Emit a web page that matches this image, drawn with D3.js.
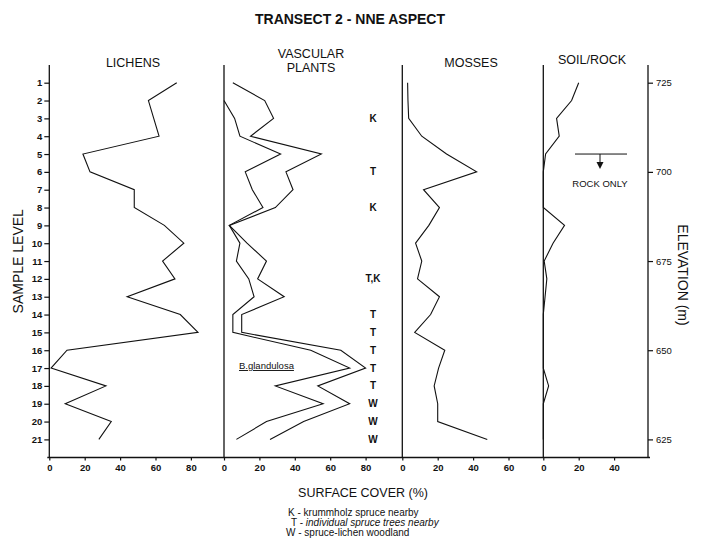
<!DOCTYPE html>
<html><head><meta charset="utf-8">
<script src="https://cdn.jsdelivr.net/npm/d3@7"></script>
<style>
body{margin:0;background:#fff;}
svg text{font-family:"Liberation Sans",Arial,Helvetica,sans-serif;fill:#111;}
</style></head><body>
<svg id="c" width="701" height="541"></svg>
<script>
const levels = [1,2,3,4,5,6,7,8,9,10,11,12,13,14,15,16,17,18,19,20,21];
const lichens = [72,56,59,62,19,23,48,48,65,76,64,71,44,74,84,10,1,32,9,35,28];
const vascularA = [5,23,28,15,55,35,39,29,3,13,24,19,34,10,10,66,80,53,71,45,26];
const vascularB = [null,0,6,9,32,12,16,22,3,9,7,14,17,5,5,49,71,29,56,24,7];
const mosses = [3,3.2,3.6,11,25,42,12,21,15,7.5,11,8.6,21,16,7,24,20.5,18,20,20,48];
const soilRock = [20,16,7.5,9,1.3,0,0,0,12,5.5,0.5,2,1,0,0,0,0,3,0,0,0];
const elevationTicks = [725,700,675,650,625];
const lichenTicks = [0,20,40,60,80];
const vascularTicks = [0,20,40,60,80];
const mossTicks = [0,20,40,60];
const soilTicks = [0,20,40];
const siteLevels = [3,6,8,12,14,15,16,17,18,19,20,21];
const siteCodes = ["K","T","K","T,K","T","T","T","T","T","W","W","W"];
const rockOnlyLevel = 5;
const bGlandulosaLevel = 17;

const svg = d3.select("#c");
const yTop = 65, yBottom = 457.5;
const y = d3.scaleLinear().domain([1,21]).range([82.7,439.4]);
const yElev = d3.scaleLinear().domain([725,625]).range([82.7,439.4]);
const ppu = 1.77;
const xL = d3.scaleLinear().domain([0,80]).range([49.3,49.3+80*ppu]);
const xV = d3.scaleLinear().domain([0,80]).range([224,224+80*ppu]);
const xM = d3.scaleLinear().domain([0,60]).range([402.3,402.3+60*ppu]);
const xS = d3.scaleLinear().domain([0,40]).range([543.3,543.3+40*ppu]);

// title
svg.append("text").attr("x",350).attr("y",24).attr("text-anchor","middle")
  .attr("font-size",14).attr("font-weight","bold").text("TRANSECT 2 - NNE ASPECT");
// headers
const hdr = (x,yy,t)=>svg.append("text").attr("x",x).attr("y",yy).attr("text-anchor","middle").attr("font-size",12.5).text(t);
hdr(133,67,"LICHENS");
hdr(311,58,"VASCULAR");
hdr(311,72,"PLANTS");
hdr(471,67,"MOSSES");
hdr(592,64,"SOIL/ROCK");

// vertical panel lines
[xL(0),xV(0),xM(0),xS(0),648].forEach(x=>{
  svg.append("line").attr("x1",x).attr("x2",x).attr("y1",yTop).attr("y2",yBottom)
    .attr("stroke","#111").attr("stroke-width",1.3);
});
// bottom axis line
svg.append("line").attr("x1",xL(0)-2).attr("x2",650).attr("y1",yBottom).attr("y2",yBottom)
  .attr("stroke","#111").attr("stroke-width",1.3);

function styleAxis(g){
  g.select(".domain").remove();
  g.selectAll(".tick line").attr("stroke","#111").attr("stroke-width",1.2);
  g.selectAll(".tick text").attr("font-family","Liberation Sans, Arial, sans-serif").attr("fill","#111");
}
// bottom axes
[[xL,lichenTicks],[xV,vascularTicks],[xM,mossTicks],[xS,soilTicks]].forEach(([sc,t])=>{
  svg.append("g").attr("transform",`translate(0,${yBottom})`)
    .call(d3.axisBottom(sc).tickValues(t).tickSize(3).tickPadding(4).tickFormat(d3.format("d")))
    .call(styleAxis).attr("font-size",9.5).attr("font-weight","bold");
});
// left sample level axis
svg.append("g").attr("transform",`translate(${xL(0)},0)`)
  .call(d3.axisLeft(y).tickValues(levels).tickSize(5).tickPadding(2).tickFormat(d3.format("d")))
  .call(styleAxis).attr("font-size",9.5).attr("font-weight","bold");
// right elevation axis
svg.append("g").attr("transform",`translate(648,0)`)
  .call(d3.axisRight(yElev).tickValues(elevationTicks).tickSize(5).tickPadding(3).tickFormat(d3.format("d")))
  .call(styleAxis).attr("font-size",9.5);

// axis titles
svg.append("text").attr("transform",`translate(23,${(yTop+yBottom)/2}) rotate(-90)`)
  .attr("text-anchor","middle").attr("font-size",14).text("SAMPLE LEVEL");
svg.append("text").attr("transform",`translate(678,275) rotate(90)`)
  .attr("text-anchor","middle").attr("font-size",14).text("ELEVATION (m)");
svg.append("text").attr("x",363).attr("y",497).attr("text-anchor","middle").attr("font-size",12.5).text("SURFACE COVER (%)");

// data lines
function drawLine(vals, sc){
  const line = d3.line().defined(d=>d[1]!=null).x(d=>sc(d[1])).y(d=>y(d[0]));
  svg.append("path").datum(levels.map((l,i)=>[l,vals[i]]))
    .attr("d",line).attr("fill","none").attr("stroke","#111").attr("stroke-width",1.1)
    .attr("stroke-linejoin","miter");
}
drawLine(lichens,xL);
drawLine(vascularA,xV);
drawLine(vascularB,xV);
drawLine(mosses,xM);
drawLine(soilRock,xS);

// site codes
svg.append("g").selectAll("text").data(siteLevels).join("text")
  .attr("x",373).attr("y",d=>y(d)+3.5).attr("text-anchor","middle").attr("font-size",10)
  .attr("font-weight","bold").text((d,i)=>siteCodes[i]);

// B.glandulosa
svg.append("text").attr("x",239).attr("y",y(bGlandulosaLevel)+1).attr("font-size",9.5)
  .attr("text-decoration","underline").text("B.glandulosa");

// rock only annotation
const yr = y(rockOnlyLevel);
svg.append("line").attr("x1",575).attr("x2",627).attr("y1",yr).attr("y2",yr).attr("stroke","#111").attr("stroke-width",1);
svg.append("line").attr("x1",600).attr("x2",600).attr("y1",yr).attr("y2",yr+12).attr("stroke","#111").attr("stroke-width",1);
svg.append("path").attr("d",`M596.5,${yr+8} L600,${yr+15} L603.5,${yr+8} Z`).attr("fill","#111");
svg.append("text").attr("x",600).attr("y",yr+33).attr("text-anchor","middle").attr("font-size",9.5).text("ROCK ONLY");

// legend
const lg = svg.append("g").attr("font-size",10);
lg.append("text").attr("x",288).attr("y",516).text("K - krummholz spruce nearby");
const t2 = lg.append("text").attr("x",291).attr("y",526);
t2.append("tspan").text("T - ");
t2.append("tspan").attr("font-style","italic").text("individual spruce trees nearby");
lg.append("text").attr("x",286).attr("y",536).text("W - spruce-lichen woodland");
</script>
</body></html>
